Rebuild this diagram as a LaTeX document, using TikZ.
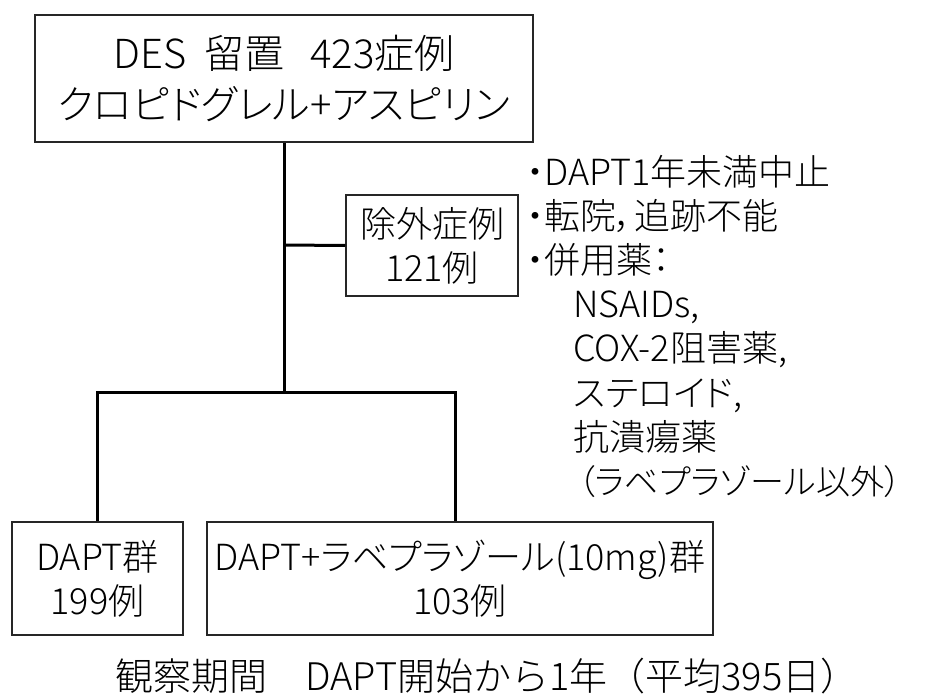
\documentclass[tikz,border=0pt]{standalone}
\usepackage{fontspec}
\setmainfont{Noto Sans CJK JP}[UprightFont={* Light}, RawFeature=+palt]
\newfontfamily\jpfull{Noto Sans CJK JP}[UprightFont={* Light}]
\begin{document}
\begin{tikzpicture}[x=1pt,y=-1pt,
  box/.style={draw=black!85, line width=1.5pt, inner sep=0pt, align=center,
    font=\fontsize{36}{44}\selectfont},
  conn/.style={draw=black, line width=3pt},
  note/.style={anchor=base west, inner sep=0pt, font=\fontsize{36}{44}\selectfont},
  caption/.style={anchor=base, inner sep=0pt, font=\jpfull\fontsize{38}{44}\selectfont}]
\useasboundingbox[fill=white] (0,0) rectangle (927,696);

\node[box, minimum width=498pt, minimum height=127pt, font=\fontsize{40}{51}\selectfont]
  (top) at (284,78.5) {DES\hspace{0.45em}留置　\kern-0.35em 423症例\\クロピドグレル+アスピリン};
\node[box, minimum width=172pt, minimum height=101pt] (excl) at (432,245.5) {除外症例\\121例};
\node[box, minimum width=171pt, minimum height=113pt] (left) at (97.5,578.5) {DAPT群\\199例};
\node[box, minimum width=506pt, minimum height=113pt] (right) at (460,578.5)
  {DAPT+ラベプラゾール(10mg)群\\103例};

\coordinate (j1) at (284,245);
\coordinate (j2) at (284,392);
\coordinate (br) at (455,392);

\draw[conn] (top.south) -- (j2);
\draw[conn] (j1) -- (excl.west);
\draw[conn] (left.north) |- (j2) -- (br) -- (br |- right.north);

\node[note] (n1) at (526,185.7) {・DAPT1年未満中止};
\node[note] (n2) at (526,229.7) {・転院，追跡不能};
\node[note] (n3) at (526,273.7) {・併用薬：};
\node[note] (n4) at (573,317.7) {NSAIDs,};
\node[note] (n5) at (573,361.7) {COX-2阻害薬,};
\node[note] (n6) at (573,406.7) {ステロイド,};
\node[note] (n7) at (573,450.7) {抗潰瘍薬};
\node[note, font=\fontsize{34}{44}\selectfont] (n8) at (578,494.7) {（ラベプラゾール以外）};

\node[caption] (cap) at (487,690) {観察期間　DAPT開始から1年（平均395日）};
\end{tikzpicture}
\end{document}
